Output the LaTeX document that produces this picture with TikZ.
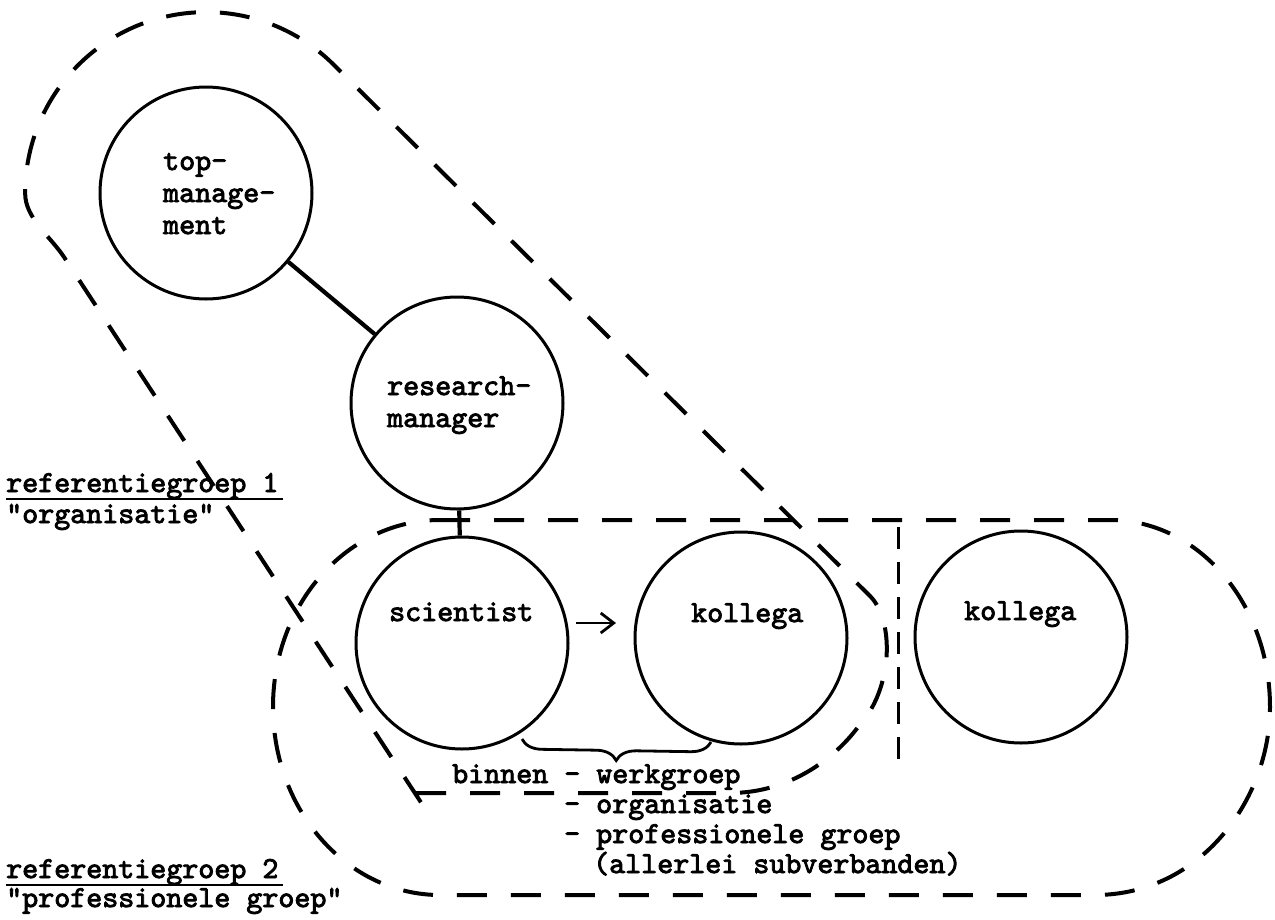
\documentclass[tikz,border=0pt]{standalone}
\usepackage{fontspec}
\newfontfamily\tw{lmmono10-regular.otf}[FakeBold=2.8]
\usetikzlibrary{arrows.meta,decorations.pathreplacing}

\begin{document}
\begin{tikzpicture}[x=1pt,y=-1pt,
  person/.style={circle,draw,line width=3pt,minimum size=212pt,inner sep=0pt},
  txt/.style={anchor=base west,inner sep=0pt,font=\tw\fontsize{30.5}{32}\selectfont},
  link/.style={line width=4.2pt},
  grp/.style={line width=4pt,dash pattern=on 30pt off 24pt},
  divider/.style={line width=3pt,dash pattern=on 22pt off 13pt},
  uline/.style={line width=2.6pt}]

\fill[white] (0,0) rectangle (1275,919);
\useasboundingbox (0,0) rectangle (1275,919);

% persons
\node[person] (tm)   at (206,193) {};
\node[person] (rm)   at (457,403) {};
\node[person] (sci)  at (462,643) {};
\node[person] (kol1) at (741,638) {};
\node[person] (kol2) at (1021,637) {};

\node[txt] (tmA) at (163,170) {top-};
\node[txt] (tmB) at (163,202) {manage-};
\node[txt] (tmC) at (163,234) {ment};
\node[txt] (rmA) at (387,395) {research-};
\node[txt] (rmB) at (387,427) {manager};
\node[txt] (sciT) at (389,621) {scientist};
\node[txt] (kolT1) at (691,622) {kollega};
\node[txt] (kolT2) at (964,620) {kollega};

% hierarchy
\draw[link] (tm) -- (rm);
\draw[link] (rm) -- (sci);

% scientist to colleague
\coordinate (arrS) at (576,623);
\coordinate (arrE) at (616,623);
\draw[line width=2.8pt,-{Straight Barb[length=13pt,width=20pt]}] (arrS) -- (arrE);

% brace under scientist and colleague
\coordinate (brR) at (711,742);
\coordinate (brL) at (522,739);
\draw[line width=2.8pt,decorate,decoration={brace,amplitude=20pt}] (brR) -- (brL);

\node[txt] (bt1) at (452,783) {binnen - werkgroep};
\node[txt] (bt2) at (564,813) {- organisatie};
\node[txt] (bt3) at (564,843) {- professionele groep};
\node[txt] (bt4) at (593,873) {(allerlei subverbanden)};

% group labels
\node[txt] (g1)  at (6,492) {referentiegroep 1};
\node[txt] (g1b) at (6,523) {"organisatie"};
\node[txt] (g2)  at (6,878) {referentiegroep 2};
\node[txt] (g2b) at (6,907) {"professionele groep"};
\draw[uline] ([yshift=-7pt]g1.base west) -- ([yshift=-7pt,xshift=4pt]g1.base east);
\draw[uline] ([yshift=-7pt]g2.base west) -- ([yshift=-7pt,xshift=4pt]g2.base east);

% referentiegroep 1: organisatie
\draw[grp] (416,793) -- (730,793)
  .. controls (790,793) and (835,758) .. (858,727)
  .. controls (893,690) and (895,621) .. (870,596)
  -- (333,64) arc[start angle=-45.5,end angle=-180,radius=181]
  .. controls (25,218) and (50,236) .. (64,257) -- (424,807);

% referentiegroep 2: professionele groep
\draw[grp] (440,520) -- (1110,520)
  .. controls (1198,520) and (1270,603) .. (1270,707)
  .. controls (1270,800) and (1200,895) .. (1095,895)
  -- (440,895)
  .. controls (348,895) and (273,811) .. (273,707)
  .. controls (273,603) and (348,520) .. (440,520) -- cycle;

% divider in front of the second colleague
\coordinate (dvT) at (898,527);
\coordinate (dvB) at (898,770);
\draw[divider] (dvT) -- (dvB);
\end{tikzpicture}
\end{document}
